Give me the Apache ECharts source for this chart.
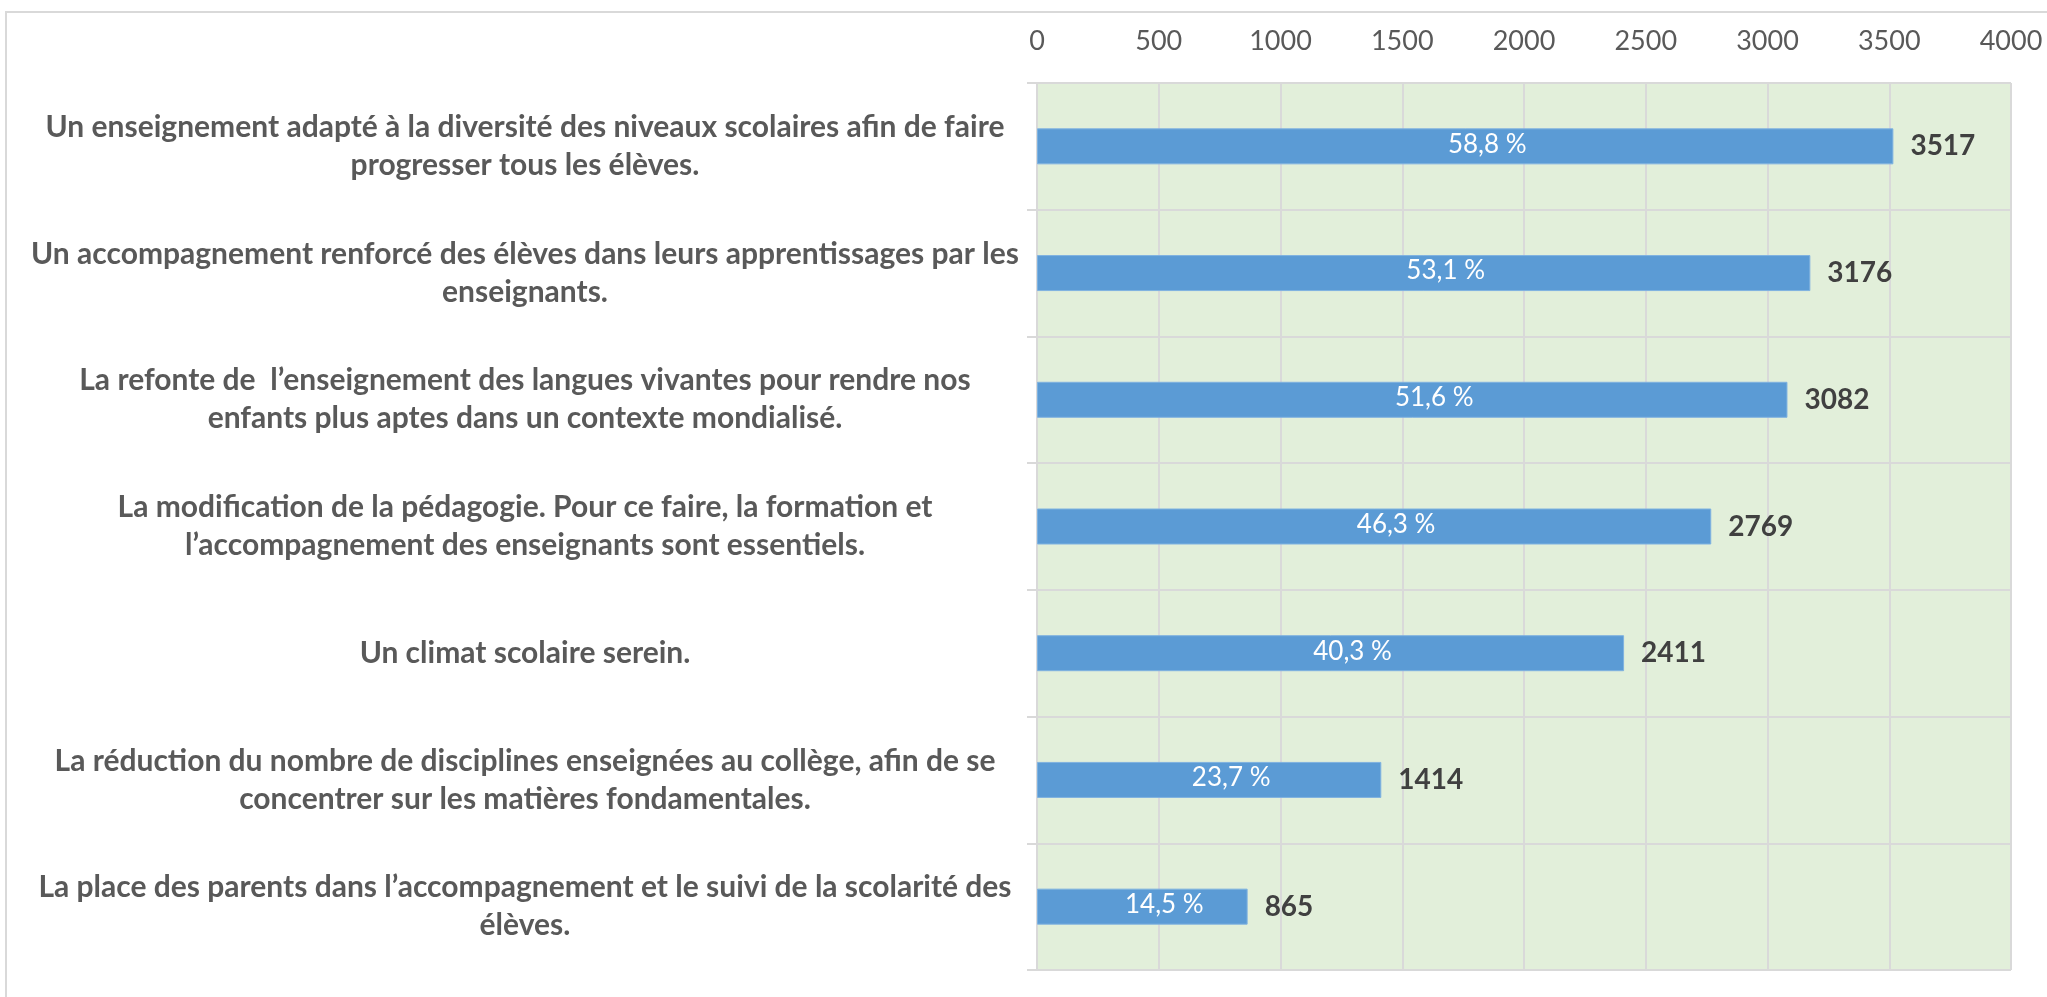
<!DOCTYPE html>
<html>
<head>
    <meta charset="utf-8" />
    <title>Priorités</title>
    <script src="https://cdn.jsdelivr.net/npm/echarts@6/dist/echarts.min.js"></script>
    <style>
        html, body { margin: 0; padding: 0; background: #fff; }
        #chart { width: 2047px; height: 997px; }
    </style>
</head>
<body>
    <div id="chart"></div>
    <script>
        // données
        var categories = [
            'Un enseignement adapté à la diversité des niveaux scolaires afin de faire\nprogresser tous les élèves.',
            'Un accompagnement renforcé des élèves dans leurs apprentissages par les\nenseignants.',
            'La refonte de  l\u2019enseignement des langues vivantes pour rendre nos\nenfants plus aptes dans un contexte mondialisé.',
            'La modification de la pédagogie. Pour ce faire, la formation et\nl\u2019accompagnement des enseignants sont essentiels.',
            'Un climat scolaire serein.',
            'La réduction du nombre de disciplines enseignées au collège, afin de se\nconcentrer sur les matières fondamentales.',
            'La place des parents dans l\u2019accompagnement et le suivi de la scolarité des\nélèves.'
        ];
        var counts = [3517, 3176, 3082, 2769, 2411, 1414, 865];
        var percents = ['58,8 %', '53,1 %', '51,6 %', '46,3 %', '40,3 %', '23,7 %', '14,5 %'];
        var ticks = [0, 500, 1000, 1500, 2000, 2500, 3000, 3500, 4000];

        var font = 'Lato, "Open Sans", sans-serif';
        var lineColor = '#D9D9D9';

        var chart = echarts.init(document.getElementById('chart'));
        chart.setOption({
            animation: false,
            textStyle: { fontFamily: font },
            graphic: [{
                type: 'rect',
                shape: { x: 6, y: 12, width: 2200, height: 1200 },
                style: { fill: 'none', stroke: lineColor, lineWidth: 2 },
                z: -1
            }],
            grid: {
                left: 1037, right: 36, top: 83, bottom: 27,
                show: true, backgroundColor: '#E2EFDA', borderWidth: 0
            },
            xAxis: {
                type: 'value',
                position: 'top',
                min: ticks[0],
                max: ticks[ticks.length - 1],
                interval: ticks[1] - ticks[0],
                axisLine: { show: false },
                axisTick: { show: false },
                axisLabel: {
                    color: '#595959', fontSize: 27, margin: 28, fontFamily: font,
                    formatter: function (v) { return String(v); }
                },
                splitLine: { show: true, lineStyle: { color: lineColor, width: 2 } }
            },
            yAxis: {
                type: 'category',
                inverse: true,
                data: categories,
                axisLine: { show: true, lineStyle: { color: lineColor, width: 2 } },
                axisTick: { show: true, length: 10, lineStyle: { color: lineColor, width: 2 } },
                splitLine: { show: true, lineStyle: { color: lineColor, width: 2 } },
                axisLabel: {
                    color: '#595959', fontSize: 30, fontWeight: 'bold', fontFamily: font,
                    align: 'center', margin: 512, lineHeight: 38
                }
            },
            series: [{
                type: 'bar',
                data: counts,
                barWidth: 36,
                itemStyle: { color: '#5B9BD5', borderColor: '#7FB2E0', borderWidth: 1 },
                label: {
                    show: true, position: 'right', distance: 17,
                    color: '#404040', fontSize: 28, fontWeight: 'bold', fontFamily: font
                },
                z: 2
            }, {
                type: 'bar',
                data: counts,
                barWidth: 36,
                barGap: '-100%',
                itemStyle: { color: 'rgba(0,0,0,0)' },
                label: {
                    show: true, position: 'inside', offset: [22, -2],
                    color: '#fff', fontSize: 26, fontFamily: font,
                    formatter: function (p) { return percents[p.dataIndex]; }
                },
                z: 3
            }]
        });
    </script>
</body>
</html>
